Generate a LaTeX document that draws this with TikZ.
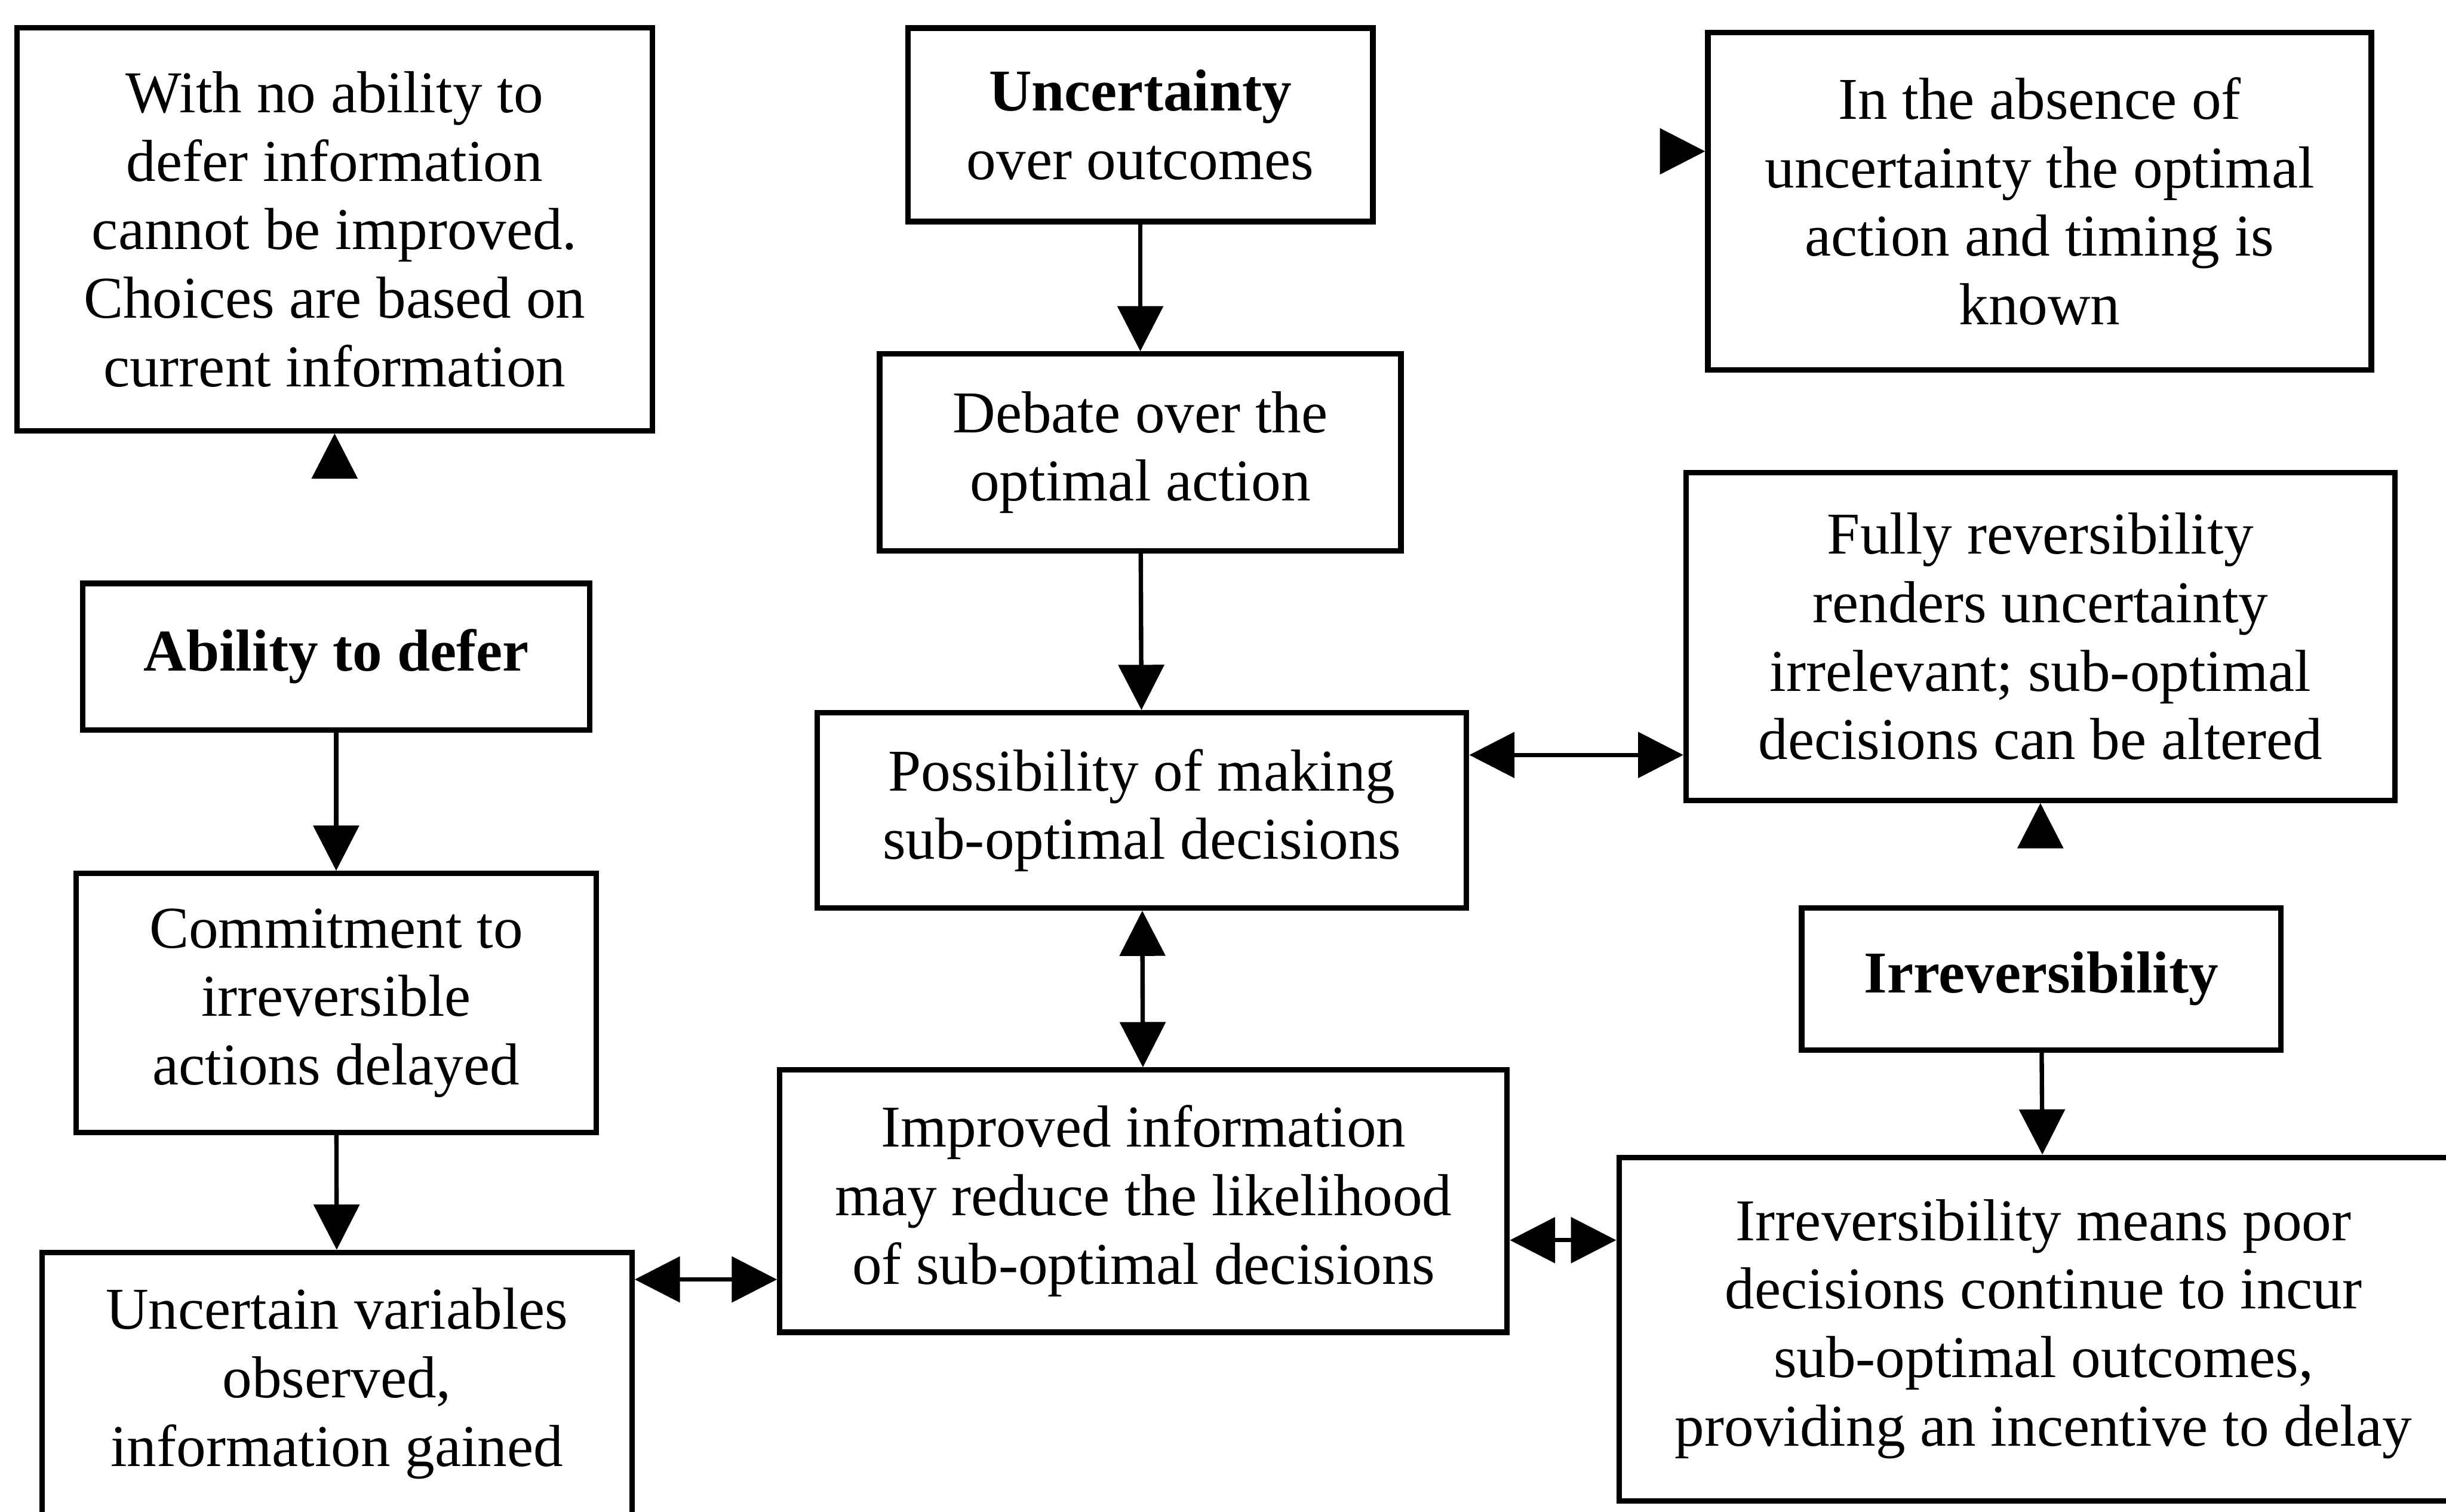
\documentclass[tikz,border=0pt]{standalone}
\usepackage{fontspec}
\setmainfont{Liberation Serif}
\usetikzlibrary{arrows.meta}
\begin{document}
\begin{tikzpicture}[x=0.01cm,y=-0.01cm,
 box/.style={draw, line width=1pt, align=center, inner sep=0pt, font=\fontsize{10.8}{12.5}\selectfont},
 tip/.tip={Triangle[length=2.9mm,width=2.9mm]},
 arr/.style={line width=0.8pt, -tip},
 darr/.style={line width=0.8pt, tip-tip}]
\useasboundingbox (0,0) rectangle (1568,969);
\clip (0,0) rectangle (1568,969);
\node[box, minimum width=4.07cm, minimum height=2.58cm] (A) at (214.5,147) {With no ability to\\defer information\\cannot be improved.\\Choices are based on\\current information};
\node[box, minimum width=2.98cm, minimum height=1.24cm] (B) at (731,80) {\textbf{Uncertainty}\\over outcomes};
\node[box, minimum width=4.25cm, minimum height=2.16cm] (C) at (1307.5,129) {In the absence of\\uncertainty the optimal\\action and timing is\\known};
\node[box, minimum width=3.34cm, minimum height=1.26cm] (D) at (731,290) {Debate over the\\optimal action};
\node[box, minimum width=4.54cm, minimum height=2.10cm] (E) at (1308,408) {Fully reversibility\\renders uncertainty\\irrelevant; sub-optimal\\decisions can be altered};
\node[box, minimum width=3.25cm, minimum height=0.94cm] (F) at (215.5,421) {\textbf{Ability to defer}};
\node[box, minimum width=4.16cm, minimum height=1.25cm] (G) at (732,519.5) {Possibility of making\\sub-optimal decisions};
\node[box, minimum width=3.33cm, minimum height=1.66cm] (H) at (215.5,643) {Commitment to\\irreversible\\actions delayed};
\node[box, minimum width=3.07cm, minimum height=0.91cm] (I) at (1308.5,627.5) {\textbf{Irreversibility}};
\node[box, minimum width=4.66cm, minimum height=1.68cm] (J) at (733,770) {Improved information\\may reduce the likelihood\\of sub-optimal decisions};
\node[box, minimum width=3.78cm, minimum height=1.68cm] (K) at (216,887) {Uncertain variables\\observed,\\information gained};
\node[box, minimum width=5.44cm, minimum height=2.20cm] (L) at (1310,852) {Irreversibility means poor\\decisions continue to incur\\sub-optimal outcomes,\\providing an incentive to delay};
% vertical connectors
\draw[arr] (B) -- (D);
\draw[arr] (D) -- (G);
\draw[darr] (G) -- (J);
\draw[arr] (F) -- (H);
\draw[arr] (H) -- (K);
\draw[arr] (I) -- (L);
% horizontal connectors
\coordinate (ge) at ([yshift=0.355cm]G.east);
\draw[darr] (ge) -- (ge -| E.west);
\coordinate (jl) at ([yshift=-0.25cm]J.east);
\draw[darr] (jl) -- (jl -| L.west);
\coordinate (kj) at ([yshift=-0.19cm]K.north east);
\draw[darr] (kj) -- (kj -| J.west);
% lone arrowheads
\coordinate (a1) at (214.5,305);
\draw[arr] (a1) -- (A.south);
\coordinate (c1) at (1066,97);
\draw[arr] (c1) -- (c1 -| C.west);
\coordinate (e1) at (1308,543);
\draw[arr] (e1) -- (E.south);
\end{tikzpicture}
\end{document}
